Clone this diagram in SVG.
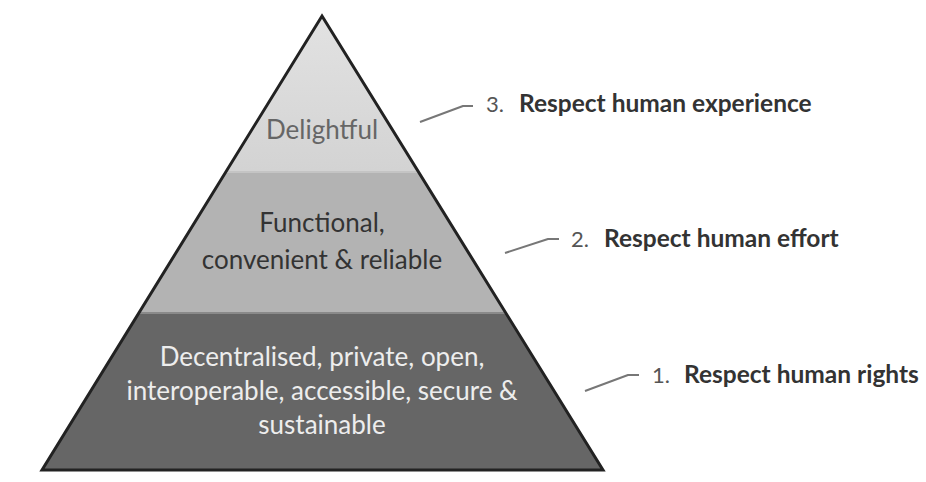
<svg xmlns="http://www.w3.org/2000/svg" width="926" height="482" viewBox="0 0 926 482">
<style>
.lbl{font-family:Lato,"Noto Sans",sans-serif;font-size:26px;text-anchor:middle}
.num{font-family:Lato,"Noto Sans",sans-serif;font-size:22px;fill:#555}
.head{font-family:Lato,"Noto Sans",sans-serif;font-size:24.5px;font-weight:bold;fill:#333}
.conn{fill:none;stroke:#777;stroke-width:2;stroke-linejoin:round}
</style>
<defs>
<linearGradient id="gTop" x1="0" y1="0" x2="0" y2="1">
<stop offset="0" stop-color="#e2e2e2"/>
<stop offset="1" stop-color="#d3d3d3"/>
</linearGradient>
</defs>
<rect width="926" height="482" fill="#ffffff"/>
<g id="tier-top">
<polygon points="322,16 418,171 226,171" fill="url(#gTop)"/>
<text class="lbl" x="322" y="139" fill="#666">Delightful</text>
</g>
<g id="tier-middle">
<polygon points="226,171 418,171 505,312 139,312" fill="#b3b3b3"/>
<line x1="226" y1="172" x2="418" y2="172" stroke="#c4c4c4" stroke-width="2"/>
<text class="lbl" x="322" y="232" fill="#333">Functional,</text>
<text class="lbl" x="322" y="269" fill="#333">convenient &amp; reliable</text>
</g>
<g id="tier-bottom">
<polygon points="139,312 505,312 603,470 42,470" fill="#666666"/>
<line x1="139" y1="313" x2="505" y2="313" stroke="#8a8a8a" stroke-width="2"/>
<text class="lbl" x="322" y="366" fill="#ededed">Decentralised, private, open,</text>
<text class="lbl" x="322" y="400" fill="#ededed">interoperable, accessible, secure &amp;</text>
<text class="lbl" x="322" y="434" fill="#ededed">sustainable</text>
</g>
<g id="outline">
<polygon points="322,16 603,470 42,470" fill="none" stroke="#222" stroke-width="3" stroke-linejoin="miter"/>
</g>
<g id="connectors">
<polyline class="conn" points="420,122 463,106 473,106"/>
<polyline class="conn" points="505,253 548,239 559,239"/>
<polyline class="conn" points="585,391 628,375 639,375"/>
</g>
<g id="label-3">
<text class="num" x="486" y="112">3.</text>
<text class="head" x="519" y="112">Respect human experience</text>
</g>
<g id="label-2">
<text class="num" x="571" y="247">2.</text>
<text class="head" x="604" y="247">Respect human effort</text>
</g>
<g id="label-1">
<text class="num" x="652" y="383">1.</text>
<text class="head" x="684" y="383">Respect human rights</text>
</g>
</svg>
